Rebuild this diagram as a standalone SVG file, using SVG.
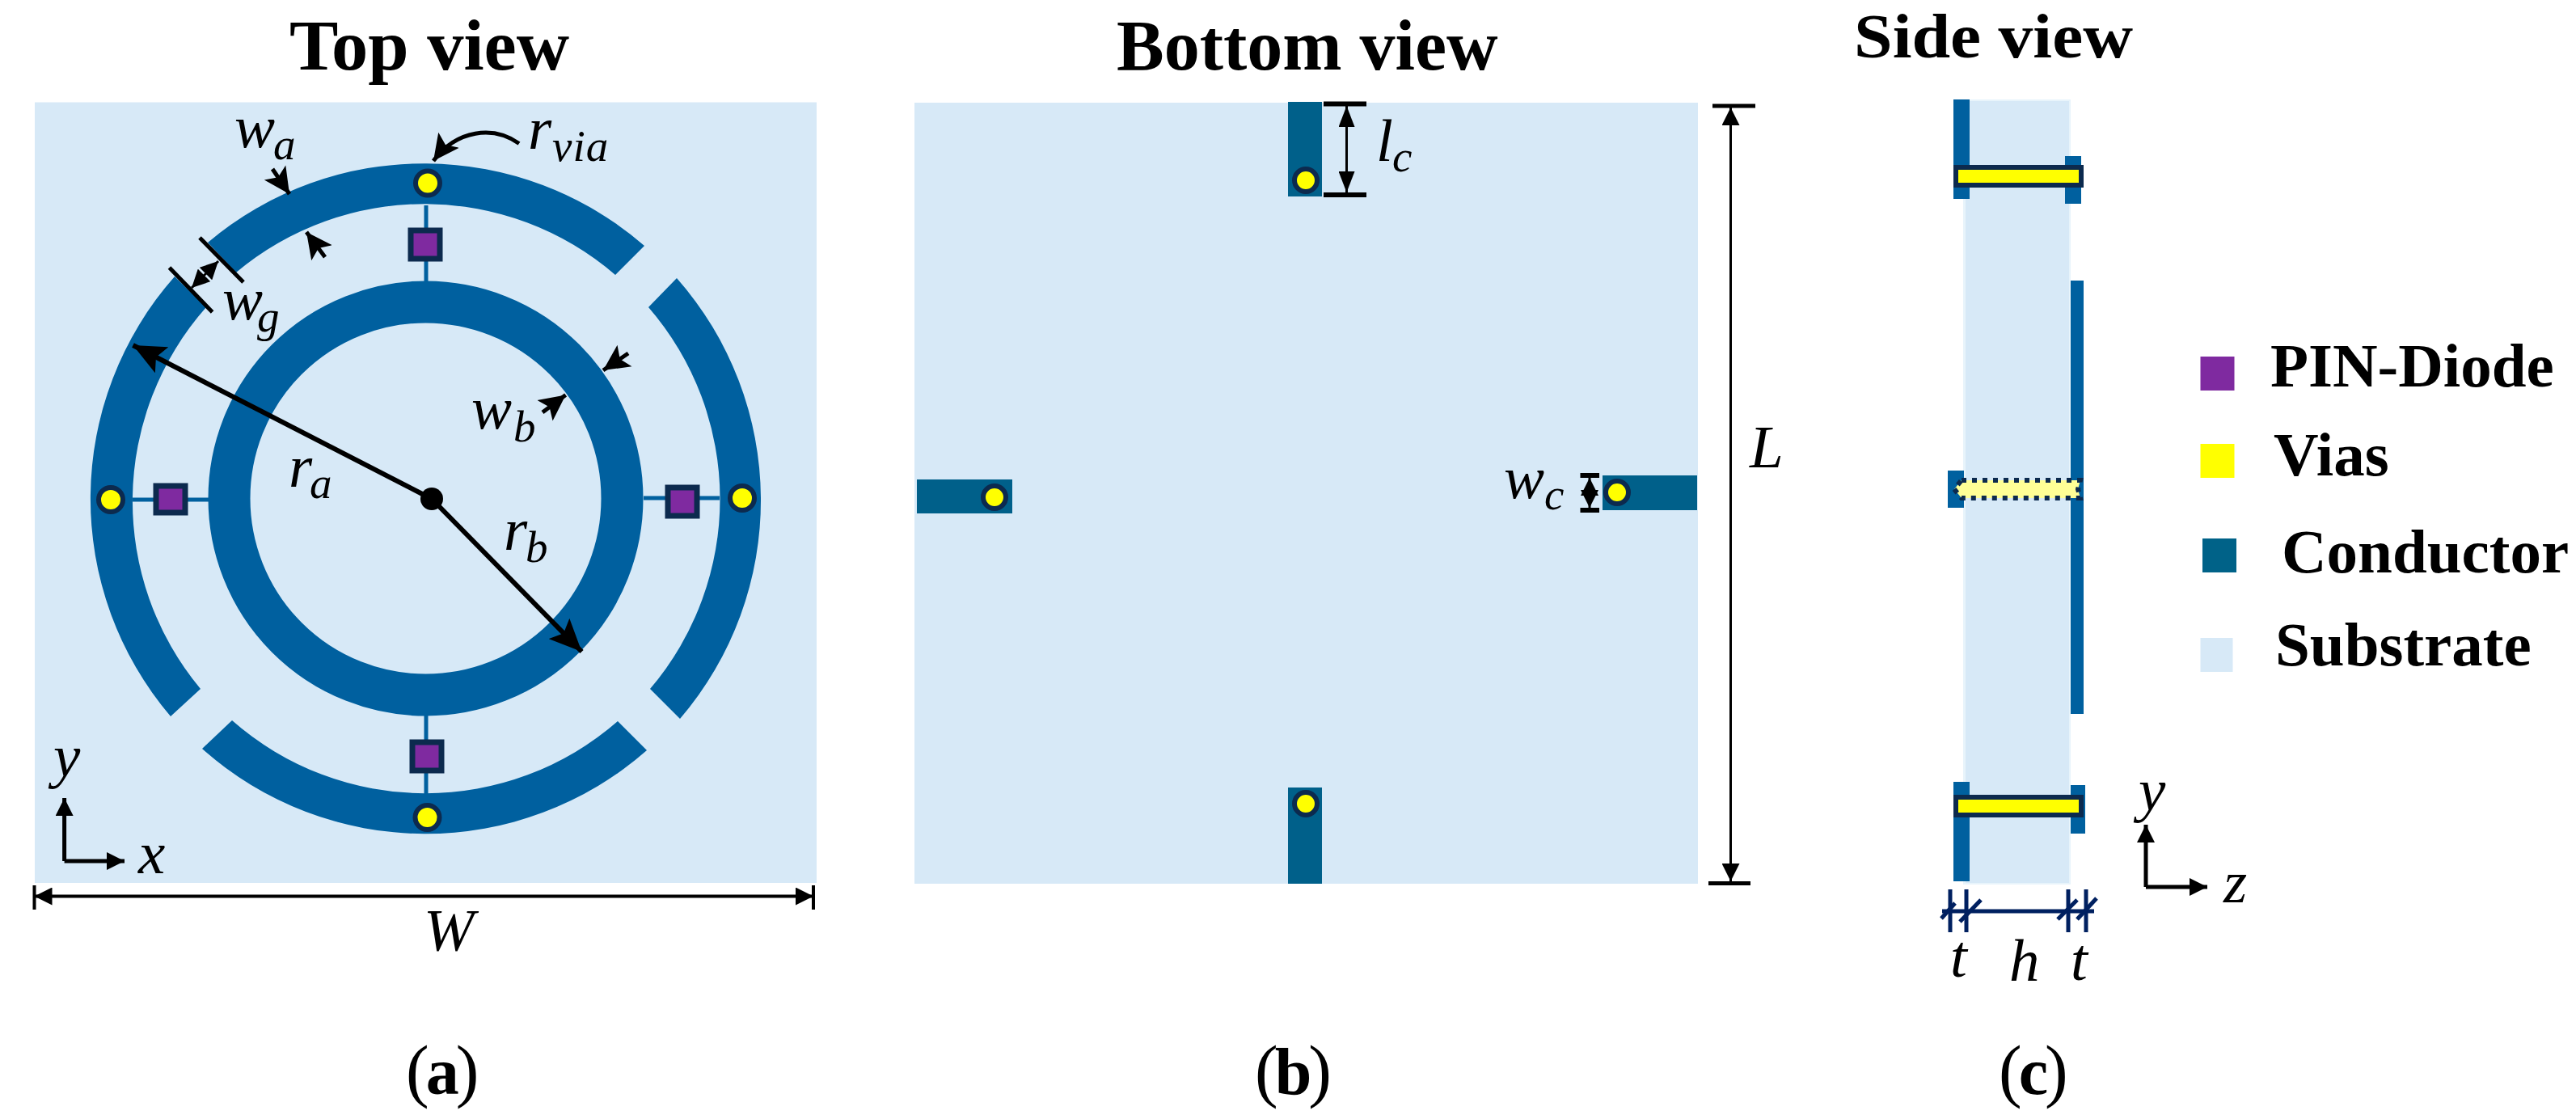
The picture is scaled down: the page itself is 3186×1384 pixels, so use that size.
<svg xmlns="http://www.w3.org/2000/svg" width="3186" height="1384" viewBox="0 0 3186 1384">
<style>
text{font-family:"Liberation Serif","Times New Roman",serif;fill:#000}
.t{font-size:88px;font-weight:700}
.m{font-size:75px;font-style:italic}
.s{font-size:55px;font-style:italic}
.cap{font-size:86px;letter-spacing:-4px}
.capb{font-weight:700;font-size:82px}
.leg{font-size:77px;font-weight:700}
.sub{fill:#d7e9f7}
.ring{fill:#00609f}
.stub{fill:#00608a}
.wire{stroke:#00609f;stroke-width:5;fill:none}
.dio{fill:#7f2aa0;stroke:#0c2a4e;stroke-width:7}
.via{fill:#ff0;stroke:#0c2a4e;stroke-width:6}
.k{stroke:#000;fill:none}
.n{stroke:#002060;stroke-width:5;fill:none}
</style>
<defs>
<marker id="big" markerUnits="userSpaceOnUse" markerWidth="44" markerHeight="36" refX="40" refY="18" orient="auto-start-reverse"><path d="M0 0L40 18L0 36L8 18Z" fill="#000"/></marker>
<marker id="st" markerUnits="userSpaceOnUse" markerWidth="34" markerHeight="34" refX="32" refY="17" orient="auto-start-reverse"><path d="M0 1L32 17L0 33L7 17Z" fill="#000"/></marker>
<marker id="sm" markerUnits="userSpaceOnUse" markerWidth="24" markerHeight="22" refX="22" refY="11" orient="auto-start-reverse"><path d="M0 0L22 11L0 22Z" fill="#000"/></marker>
<marker id="tall" markerUnits="userSpaceOnUse" markerWidth="28" markerHeight="20" refX="26" refY="10" orient="auto-start-reverse"><path d="M0 0L26 10L0 20Z" fill="#000"/></marker>
</defs>
<rect width="3186" height="1384" fill="#fff"/>

<g id="top-view">
<text class="t" x="358" y="86" textLength="346" lengthAdjust="spacingAndGlyphs">Top view</text>
<rect class="sub" x="43" y="126.500" width="967" height="965.500"/>
<path id="ring-a-top" class="ring" d="M257 300A415 415 0 0 1 797 304L761 340A362 362 0 0 0 292 337Z"/>
<path id="ring-a-right" class="ring" d="M837 344A415 415 0 0 1 841 889L804 852A362 362 0 0 0 802 380Z"/>
<path id="ring-a-bottom" class="ring" d="M800 928A415 415 0 0 1 250 926L287 891A362 362 0 0 0 764 892Z"/>
<path id="ring-a-left" class="ring" d="M211 886A415 415 0 0 1 216 342L255 380A362 362 0 0 0 248 852Z"/>
<circle id="ring-b" cx="526.500" cy="616.500" r="243" fill="none" stroke="#00609f" stroke-width="52"/>
<path class="wire" d="M527 254V348M527 885V985M164 618H258M796 616H890"/>
<rect id="diode-top" class="dio" x="508" y="285" width="36" height="35"/>
<rect id="diode-left" class="dio" x="193" y="601" width="36" height="33"/>
<rect id="diode-right" class="dio" x="826" y="603" width="36" height="35"/>
<rect id="diode-bottom" class="dio" x="510" y="918" width="36" height="35"/>
<circle id="via-top" class="via" cx="529" cy="226.500" r="15"/>
<circle id="via-left" class="via" cx="137" cy="618" r="15"/>
<circle id="via-right" class="via" cx="918" cy="616" r="15"/>
<circle id="via-bottom" class="via" cx="528.500" cy="1011" r="15"/>
<circle id="center" cx="534" cy="617" r="14" fill="#000"/>
<text class="m" x="290" y="182">w<tspan class="s" x="338" y="197">a</tspan></text>
<text class="m" x="653" y="184">r<tspan class="s" x="683" y="199" font-size="60" letter-spacing="1">via</tspan></text>
<text class="m" x="275" y="395">w<tspan class="s" x="318" y="410">g</tspan></text>
<text class="m" x="583" y="530">w<tspan class="s" x="635" y="546">b</tspan></text>
<text class="m" x="357" y="602">r<tspan class="s" x="383" y="616">a</tspan></text>
<text class="m" x="623" y="680">r<tspan class="s" x="650" y="695">b</tspan></text>
<text class="m" x="66" y="960">y</text>
<text class="m" x="171" y="1080">x</text>
<text class="m" x="524" y="1176">W</text>
<text class="cap" x="502" y="1353">(<tspan class="capb">a</tspan>)</text>
</g>

<g id="bottom-view">
<text class="t" x="1381" y="86">Bottom view</text>
<rect class="sub" x="1131" y="127" width="969" height="966"/>
<rect class="stub" x="1593" y="126" width="42" height="117"/>
<rect class="stub" x="1593" y="974" width="42" height="119"/>
<rect class="stub" x="1134" y="593" width="118" height="42"/>
<rect class="stub" x="1982" y="588" width="117" height="43"/>
<circle class="via" cx="1615" cy="223" r="14"/>
<circle class="via" cx="1615" cy="994" r="14"/>
<circle class="via" cx="1230" cy="615" r="14"/>
<circle class="via" cx="2000" cy="609" r="14"/>
<text class="m" x="1702" y="199">l<tspan class="s" x="1722" y="212">c</tspan></text>
<text class="m" x="1860" y="616">w<tspan class="s" x="1910" y="630">c</tspan></text>
<text class="m" x="2164" y="578">L</text>
<text class="cap" x="1552" y="1353">(<tspan class="capb">b</tspan>)</text>
</g>

<g id="side-view">
<text x="2293" y="71" font-size="78" font-weight="700" textLength="345" lengthAdjust="spacingAndGlyphs">Side view</text>
<rect x="2428" y="123" width="133" height="971" fill="#e8f4fb"/>
<rect class="sub" x="2431" y="125" width="128" height="967"/>
<g class="ring">
<rect x="2416" y="123" width="20" height="123"/>
<rect x="2554" y="193" width="20" height="59"/>
<rect x="2561" y="347" width="16" height="536"/>
<rect x="2409" y="582" width="20" height="46"/>
<rect x="2416" y="967" width="20" height="123"/>
<rect x="2561" y="971" width="18" height="60"/>
</g>
<rect id="side-via-top" x="2419" y="207" width="155" height="22" fill="#ff0" stroke="#0c2a4e" stroke-width="6"/>
<path id="side-via-mid" d="M2426 594H2573L2570 605L2573 616H2426L2417 605Z" fill="#ffff96" stroke="#0c2a4e" stroke-width="6" stroke-dasharray="6 7"/>
<rect id="side-via-bottom" x="2419" y="986" width="155" height="22" fill="#ff0" stroke="#0c2a4e" stroke-width="6"/>
<text class="m" x="2412" y="1208">t</text>
<text class="m" x="2485" y="1213">h</text>
<text class="m" x="2561" y="1212">t</text>
<text class="m" x="2645" y="1002">y</text>
<text class="m" x="2750" y="1116">z</text>
<text class="cap" x="2472" y="1353">(<tspan class="capb">c</tspan>)</text>
</g>

<g id="legend">
<rect x="2721.500" y="441" width="42" height="42" fill="#7f2aa0"/>
<text class="leg" x="2808" y="478">PIN-Diode</text>
<rect x="2721.500" y="549" width="42" height="42" fill="#ff0"/>
<text class="leg" x="2812" y="588">Vias</text>
<rect x="2724" y="666" width="42" height="42" fill="#006288"/>
<text class="leg" x="2822" y="708">Conductor</text>
<rect x="2721.500" y="789" width="40" height="42" fill="#d7e9f7"/>
<text class="leg" x="2814" y="823">Substrate</text>
</g>

<g id="connectors">
<path class="k" stroke-width="6" d="M534 617L164.500 427" marker-end="url(#big)"/>
<path class="k" stroke-width="6" d="M534 617L719.500 806" marker-end="url(#big)"/>
<path class="k" stroke-width="5" d="M337 209L358 240" marker-end="url(#st)"/>
<path class="k" stroke-width="5" d="M402 318L379 287" marker-end="url(#st)"/>
<path class="k" stroke-width="5" d="M777 437L746 458" marker-end="url(#st)"/>
<path class="k" stroke-width="5" d="M671 510L699.600 488.600" marker-end="url(#st)"/>
<path class="k" stroke-width="5" d="M642 177.500C610 155 565 160 536 199" marker-end="url(#st)"/>
<path class="k" stroke-width="5" d="M247 294L301 349M209.500 331L262.600 386"/>
<path class="k" stroke-width="3" d="M270 323L237 356" marker-start="url(#sm)" marker-end="url(#sm)"/>
<path class="k" stroke-width="5" d="M79.600 1065V987" marker-end="url(#sm)"/>
<path class="k" stroke-width="5" d="M79.600 1065H154" marker-end="url(#sm)"/>
<path class="k" stroke-width="4" d="M42.500 1108.500H1006" marker-start="url(#sm)" marker-end="url(#sm)"/>
<path class="k" stroke-width="4" d="M42.500 1095V1125M1006 1095V1125"/>
<path class="k" stroke-width="6" d="M1637 128.500H1690M1637 241H1690"/>
<path class="k" stroke-width="3" d="M1665.500 131V238" marker-start="url(#tall)" marker-end="url(#tall)"/>
<path class="k" stroke-width="5" d="M2118 131H2171M2113 1092.600H2165"/>
<path class="k" stroke-width="3" d="M2140.500 133V1090" marker-start="url(#sm)" marker-end="url(#sm)"/>
<path class="k" stroke-width="6" d="M1954.500 588H1978M1954.500 631H1978"/>
<path class="k" stroke-width="3" d="M1966 591V628" marker-start="url(#sm)" marker-end="url(#sm)"/>
<path class="n" d="M2412 1100V1153M2432 1100V1153M2558 1100V1153M2580 1100V1153M2402 1127H2590"/>
<path class="n" d="M2401 1136L2418 1117M2424 1140L2450 1113M2545 1137L2569 1113M2569 1137L2593 1111"/>
<path class="k" stroke-width="5" d="M2654 1097V1020" marker-end="url(#sm)"/>
<path class="k" stroke-width="5" d="M2654 1097H2730" marker-end="url(#sm)"/>
</g>
</svg>
